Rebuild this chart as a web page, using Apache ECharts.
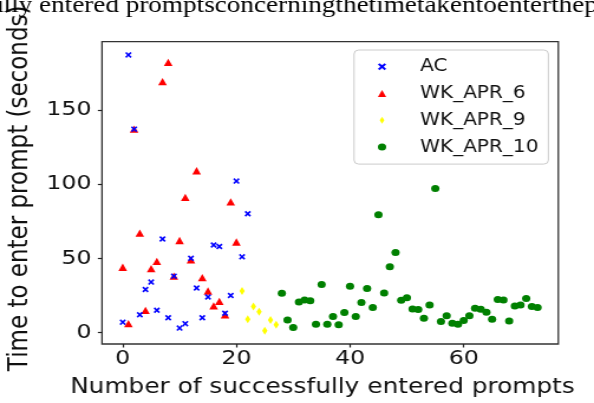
<!DOCTYPE html>
<html><head><meta charset="utf-8">
<script src="https://cdn.jsdelivr.net/npm/echarts@6/dist/echarts.min.js"></script>
<style>
html,body{margin:0;padding:0;overflow:hidden;background:#fff;width:594px;height:403px}
#c{position:absolute;left:0;top:0;width:503px;height:403px;transform:scaleX(1.18091);transform-origin:0 0}
</style>
</head><body><div id="c"></div>
<script>
const captionText = 'ully entered promptsconcerningthetimetakentoenterthep';
const xAxisTitle = 'Number of successfully entered prompts';
const yAxisTitle = 'Time to enter prompt (seconds)';
const seriesNames = ['AC', 'WK_APR_6', 'WK_APR_9', 'WK_APR_10'];
const xTicks = [0, 20, 40, 60];
const yTicks = [0, 50, 100, 150];

const acX = [0,1,2,3,4,5,6,7,8,9,10,11,12,13,14,15,16,17,18,19,20,21,22];
const acY = [7,187,137,12,29,34,15,63,10,38,3,6,50,30,10,24,59,58,13,25,102,51,80];
const apr6X = [0,1,2,3,4,5,6,7,8,9,10,11,12,13,14,15,16,17,18,19,20];
const apr6Y = [44,6,137,67,15,43,48,169,182,38,62,91,49,109,37,28,18,21,12,88,61];
const apr9X = [21,22,23,24,25,26,27];
const apr9Y = [28,9,17.5,14,1.3,8.5,5.2];
const apr10X = [28,29,30,31,32,33,34,35,36,37,38,39,40,41,42,43,44,45,46,47,48,49,50,
  51,52,53,54,55,56,57,58,59,60,61,62,63,64,65,66,67,68,69,70,71,72,73];
const apr10Y = [26.5,8.5,3.4,20.6,22,21.5,5.6,32.3,5.6,10.8,5.2,13.5,31.2,10.8,20.2,29.6,16.8,79.4,26.7,44.4,
  54,21.8,23.5,15.9,15.5,9.6,18.6,97.1,7.4,11.4,6.3,5.6,8.1,11.4,16.4,15.7,13.7,9,22.2,22,7.8,17.9,18.6,22.9,17.5,16.8];

function pairs(xs, ys) { return xs.map((x, i) => [x, ys[i]]); }

const xSym = 'path://M0,2L2,0L5,3L8,0L10,2L7,5L10,8L8,10L5,7L2,10L0,8L3,5Z';
const dSym = 'path://M5,0L10,9L5,18L0,9Z';
const font = 'DejaVu Sans';

const chart = echarts.init(document.getElementById('c'));
chart.setOption({
  animation: false,
  backgroundColor: '#fff',
  graphic: [{
    type: 'text', x: -8.5, y: 17, z: 10,
    style: { text: captionText, fontSize: 23, fontFamily: 'Liberation Serif', fill: '#000', verticalAlign: 'bottom', align: 'left' }
  }],
  grid: { left: 86.37, right: 30.23, top: 41.7, bottom: 59, containLabel: false, outerBoundsMode: 'none',
    show: true, borderColor: '#333', borderWidth: 1.3, backgroundColor: 'transparent' },
  xAxis: {
    type: 'value', min: -3.65, max: 76.65,
    name: xAxisTitle, nameLocation: 'middle', nameGap: 33.5,
    nameTextStyle: { fontFamily: font, fontSize: 21, color: '#111', padding: [0, 13, 0, 0] },
    axisLine: { show: false, onZero: false },
    axisTick: { show: true, length: 3.5, customValues: xTicks, lineStyle: { color: '#222', width: 1.2 } },
    axisLabel: { customValues: xTicks, margin: 4.5, fontFamily: font, fontSize: 20, color: '#111' },
    splitLine: { show: false }
  },
  yAxis: {
    type: 'value', min: -7.7, max: 195.9,
    name: yAxisTitle, nameLocation: 'middle', nameGap: 53,
    nameTextStyle: { fontFamily: font, fontSize: 23, color: '#111', padding: [0, 0, 0, 9] },
    axisLine: { show: false, onZero: false },
    axisTick: { show: true, length: 3.5, customValues: yTicks, lineStyle: { color: '#222', width: 1.2 } },
    axisLabel: { customValues: yTicks, margin: 9, fontFamily: font, fontSize: 20, color: '#111' },
    splitLine: { show: false }
  },
  legend: {
    orient: 'vertical', left: 299.8, top: 50,
    data: seriesNames,
    itemWidth: 7, itemHeight: 7, itemGap: 9.8,
    padding: [8.2, 8.4, 8.5, 20.2],
    borderColor: '#cccccc', borderWidth: 1, borderRadius: 4,
    backgroundColor: 'rgba(255,255,255,0.8)',
    textStyle: { fontFamily: font, fontSize: 17, color: '#111', padding: [0, 0, 0, 23.7] }
  },
  series: [
    { name: 'AC', type: 'scatter', z: 4, symbol: xSym, symbolSize: [5.5, 6], itemStyle: { color: '#0000ff', opacity: 1 }, data: pairs(acX, acY) },
    { name: 'WK_APR_6', type: 'scatter', z: 3, symbol: 'triangle', symbolSize: [7.3, 7.3], itemStyle: { color: '#ff0000', opacity: 1 }, data: pairs(apr6X, apr6Y) },
    { name: 'WK_APR_9', type: 'scatter', z: 3, symbol: dSym, symbolSize: [4.5, 8], itemStyle: { color: '#ffff00', opacity: 1 }, data: pairs(apr9X, apr9Y) },
    { name: 'WK_APR_10', type: 'scatter', z: 3, symbol: 'circle', symbolSize: 7, itemStyle: { color: '#008000', opacity: 1 }, data: pairs(apr10X, apr10Y) }
  ]
});
</script></body></html>
